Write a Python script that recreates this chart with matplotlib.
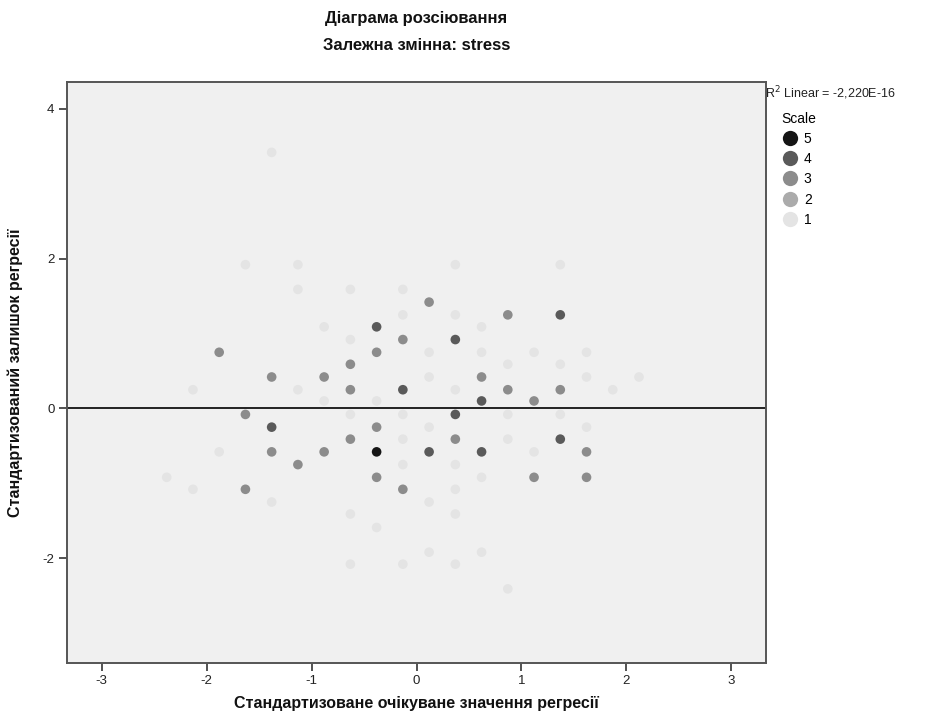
import matplotlib
matplotlib.use("Agg")
import matplotlib.pyplot as plt
from matplotlib.lines import Line2D
from matplotlib import font_manager

# ---- data (standardized predicted, standardized residual, count level) ----
x_lvl1 = [-1.38, -1.63, -1.13, -1.13, -0.63, -0.13, -0.13, -0.88, -0.63, 0.37, 1.37, 0.37,
          0.62, 0.12, 0.62, 1.12, 1.62, 0.87, 1.37, 0.12, 1.62, 2.12, -2.13, -1.13, 0.37,
          1.87, -0.88, -0.38, -0.63, -0.13, 0.87, 1.37, 0.12, 1.62, -0.13, 0.87, -1.88,
          1.12, -0.13, 0.37, -2.38, 0.62, -2.13, 0.37, -1.38, 0.12, -0.63, 0.37, -0.38,
          0.12, 0.62, -0.63, -0.13, 0.37, 0.87]
y_lvl1 = [3.42, 1.92, 1.92, 1.59, 1.59, 1.59, 1.25, 1.09, 0.92, 1.92, 1.92, 1.25,
          1.09, 0.75, 0.75, 0.75, 0.75, 0.59, 0.59, 0.42, 0.42, 0.42, 0.25, 0.25, 0.25,
          0.25, 0.10, 0.10, -0.08, -0.08, -0.08, -0.08, -0.25, -0.25, -0.41, -0.41, -0.58,
          -0.58, -0.75, -0.75, -0.92, -0.92, -1.08, -1.08, -1.25, -1.25, -1.41, -1.41, -1.59,
          -1.92, -1.92, -2.08, -2.08, -2.08, -2.41]

x_lvl3 = [-1.88, -0.38, -0.63, -1.38, -0.88, -0.13, -0.63, -1.63, -0.38, -0.63, -1.38,
          -0.88, -1.13, -0.38, -1.63, -0.13, 0.12, 0.87, 0.62, 0.87, 1.37, 1.12, 0.37,
          1.62, 1.12, 1.62]
y_lvl3 = [0.75, 0.75, 0.59, 0.42, 0.42, 0.92, 0.25, -0.08, -0.25, -0.41, -0.58,
          -0.58, -0.75, -0.92, -1.08, -1.08, 1.42, 1.25, 0.42, 0.25, 0.25, 0.10, -0.41,
          -0.58, -0.92, -0.92]

x_lvl4 = [-0.38, 1.37, 0.37, -0.13, -1.38, 0.62, 0.37, 1.37, 0.12, 0.62]
y_lvl4 = [1.09, 1.25, 0.92, 0.25, -0.25, 0.10, -0.08, -0.41, -0.58, -0.58]

x_lvl5 = [-0.38]
y_lvl5 = [-0.58]

scale_levels = [5, 4, 3, 2, 1]
level_colors = {1: "#e4e4e4", 2: "#ababab", 3: "#8c8c8c", 4: "#5a5a5a", 5: "#151515"}

fit_intercept = 0.0
fit_slope = 0.0

title_line1 = "Діаграма розсіювання"
title_line2 = "Залежна змінна: stress"
xlabel = "Стандартизоване очікуване значення регресії"
ylabel = "Стандартизований залишок регресії"
r2_text = r"R$^2$ Linear = -2,220E-16"
x_ticks = [-3, -2, -1, 0, 1, 2, 3]
y_ticks = [-2, 0, 2, 4]

# ---- fonts ----
avail = {f.name for f in font_manager.fontManager.ttflist}
narrow = "Liberation Sans Narrow" if "Liberation Sans Narrow" in avail else "Liberation Sans"
plt.rcParams["font.family"] = ["Liberation Sans", "DejaVu Sans"]

fig = plt.figure(figsize=(9.4, 7.21), dpi=100)
fig.patch.set_facecolor("white")
ax = fig.add_axes([67 / 940, 1 - 663 / 721, (766 - 67) / 940, (663 - 82) / 721])
ax.set_facecolor("#f0f0f0")

ax.set_xlim(-3.33, 3.33)
ax.set_ylim(-3.4, 4.36)

series = [(x_lvl1, y_lvl1, 1), (x_lvl3, y_lvl3, 3), (x_lvl4, y_lvl4, 4), (x_lvl5, y_lvl5, 5)]
for xs, ys, lv in series:
    ax.scatter(xs, ys, s=48, color=level_colors[lv], edgecolors="none", zorder=3)

# fit line
ax.axhline(fit_intercept, color="#222222", lw=1.4, zorder=2)

ax.set_xticks(x_ticks)
ax.set_yticks(y_ticks)
ax.set_xticklabels([str(t) for t in x_ticks])
ax.set_yticklabels([str(t) for t in y_ticks])
ax.tick_params(axis="both", direction="out", length=6, width=1.2, color="#333333",
               labelsize=9.5, labelcolor="#222222", pad=3)
for sp in ax.spines.values():
    sp.set_color("#555555")
    sp.set_linewidth(1.4)

ax.set_xlabel(xlabel, fontsize=11.5, fontweight="bold", family=[narrow, "DejaVu Sans"],
              labelpad=6, color="#111111")
ax.set_ylabel(ylabel, fontsize=11.5, fontweight="bold", family=[narrow, "DejaVu Sans"],
              labelpad=14, color="#111111")

cx = (67 + 766) / 2 / 940
fig.text(cx, 1 - 19 / 721, title_line1, ha="center", va="center", fontsize=12,
         fontweight="bold", family=[narrow, "DejaVu Sans"], color="#111111")
fig.text(cx, 1 - 45 / 721, title_line2, ha="center", va="center", fontsize=12,
         fontweight="bold", family=[narrow, "DejaVu Sans"], color="#111111")

fig.text(765 / 940, 1 - 93 / 721, r2_text, ha="left", va="center", fontsize=9,
         color="#222222")

handles = [Line2D([], [], marker="o", linestyle="none", markersize=11,
                  markerfacecolor=level_colors[l], markeredgecolor="none") for l in scale_levels]
leg = ax.legend(handles, [str(l) for l in scale_levels], title="Scale",
                loc="upper left", bbox_to_anchor=(776 / 940, 1 - 106 / 721),
                bbox_transform=fig.transFigure, frameon=False, fontsize=10,
                title_fontsize=10, handletextpad=0.4, labelspacing=0.45,
                borderaxespad=0, handlelength=1.2, alignment="left")

fig.savefig("out.png", dpi=100)
